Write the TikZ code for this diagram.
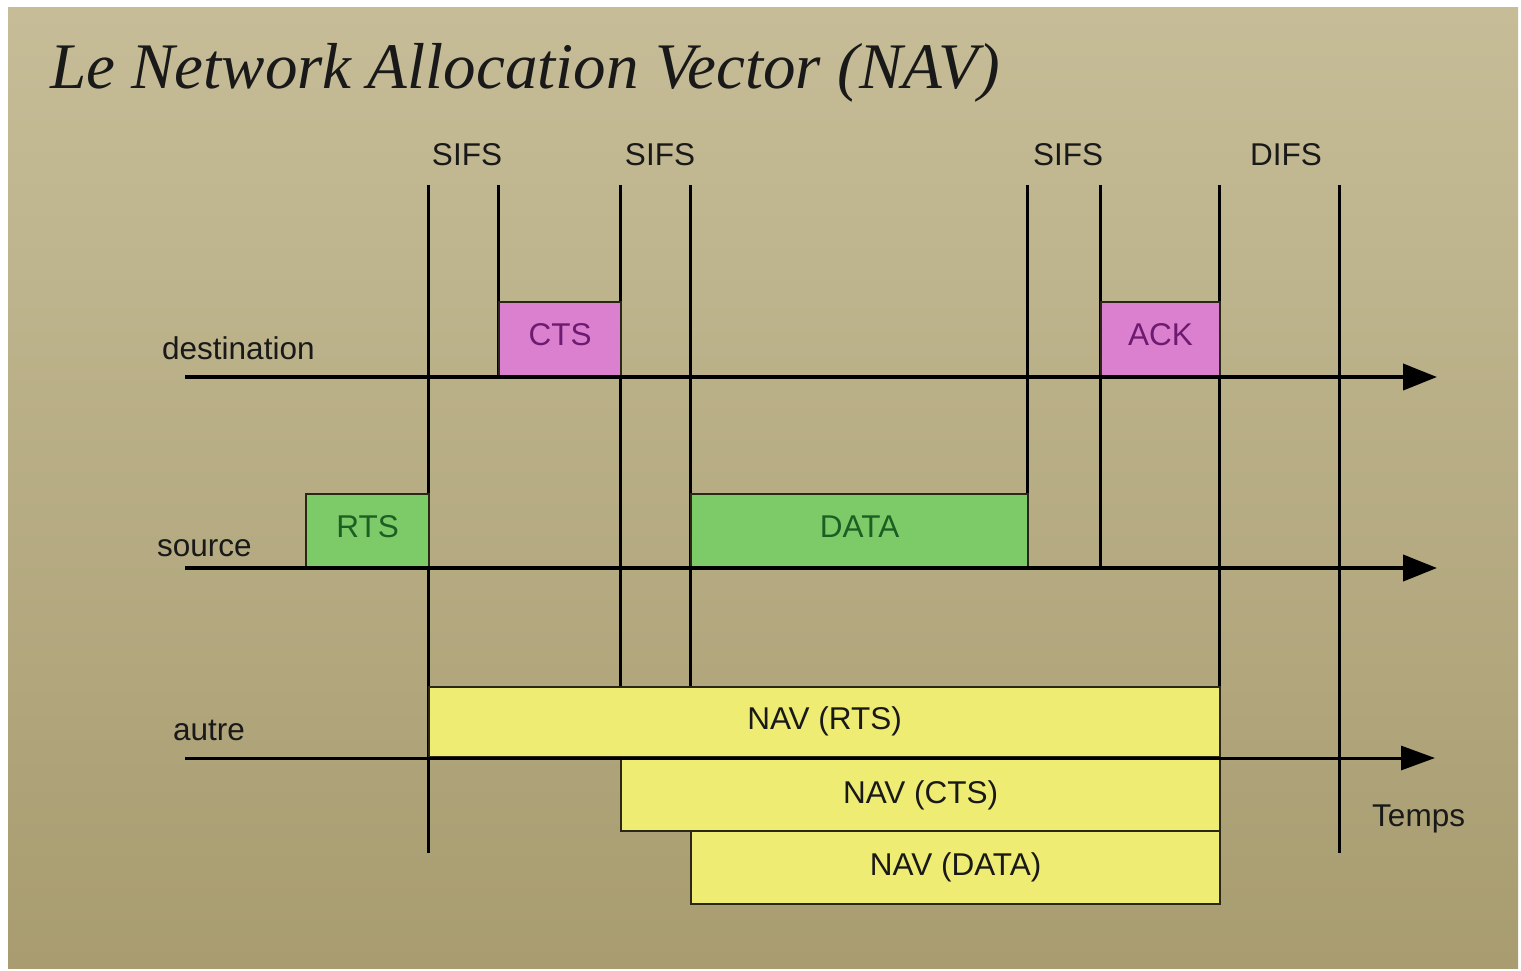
\documentclass[tikz,border=0pt]{standalone}
\usepackage{fontspec}
\setmainfont{Liberation Sans}
\newfontfamily\titlefont{Liberation Serif}
\usetikzlibrary{arrows.meta}
\definecolor{bgtop}{HTML}{C6BD98}
\definecolor{bgbot}{HTML}{A89C70}
\definecolor{ctsfill}{HTML}{DA80CF}
\definecolor{ctstext}{HTML}{6E1A70}
\definecolor{rtsfill}{HTML}{7CCB68}
\definecolor{rtstext}{HTML}{1D5E22}
\definecolor{navfill}{HTML}{EEEC72}
\definecolor{edge}{HTML}{2A2618}
\tikzset{
  lbl/.style={font=\fontsize{31.5}{35}\selectfont, text=black!90, inner sep=0pt},
  vline/.style={draw=black, line width=3pt},
  axisline/.style={draw=black, line width=4pt, -{Triangle[length=34pt,width=26pt]}},
  axisthin/.style={draw=black, line width=3pt, -{Triangle[length=34pt,width=24pt]}},
  box/.style={draw=edge, line width=2.2pt, inner sep=0pt, font=\fontsize{31.5}{35}\selectfont},
  ctsbox/.style={box, fill=ctsfill, text=ctstext},
  rtsbox/.style={box, fill=rtsfill, text=rtstext},
  navbox/.style={box, fill=navfill, text=black!90},
}
\begin{document}
\begin{tikzpicture}[x=1pt,y=-1pt]
\useasboundingbox (0,0) rectangle (1521,970);
\fill[white] (0,0) rectangle (1521,970);
\shade[top color=bgtop, bottom color=bgbot] (8,7) rectangle (1518,968);

% title
\node[anchor=base west, inner sep=0pt, font=\titlefont\itshape\fontsize{65}{70}\selectfont, text=black!90] (title) at (50,88) {Le Network Allocation Vector (NAV)};

% vertical time marks
\coordinate (v1t) at (428,185); \coordinate (v1b) at (428,853);
\coordinate (v2t) at (498,185); \coordinate (v2b) at (498,377);
\coordinate (v3t) at (620,185); \coordinate (v3b) at (620,688);
\coordinate (v4t) at (690,185); \coordinate (v4b) at (690,688);
\coordinate (v5t) at (1027,185); \coordinate (v5b) at (1027,568);
\coordinate (v6t) at (1100,185); \coordinate (v6b) at (1100,568);
\coordinate (v7t) at (1219,185); \coordinate (v7b) at (1219,903);
\coordinate (v8t) at (1339,185); \coordinate (v8b) at (1339,853);
\foreach \i in {1,...,8} {\draw[vline] (v\i t) -- (v\i b);}

% interval labels
\node[lbl] (sifs1) at (467,155) {SIFS};
\node[lbl] (sifs2) at (660,155) {SIFS};
\node[lbl] (sifs3) at (1068,155) {SIFS};
\node[lbl] (difs) at (1286,155) {DIFS};

% frames
\node[ctsbox, minimum width=122pt, minimum height=74pt, anchor=south west] (cts) at (498,377) {\raisebox{8pt}{CTS}};
\node[ctsbox, minimum width=119pt, minimum height=74pt, anchor=south west] (ack) at (1100,377) {\raisebox{8pt}{ACK}};
\node[rtsbox, minimum width=123pt, minimum height=73pt, anchor=south west] (rts) at (305,568) {\raisebox{8pt}{RTS}};
\node[rtsbox, minimum width=337pt, minimum height=73pt, anchor=south west] (data) at (690,568) {\raisebox{8pt}{DATA}};
\node[navbox, minimum width=791pt, minimum height=70pt, anchor=south west] (navrts) at (428,758) {\raisebox{7pt}{NAV (RTS)}};
\node[navbox, minimum width=599pt, minimum height=72pt, anchor=north west] (navcts) at (620,758) {\raisebox{7pt}{NAV (CTS)}};
\node[navbox, minimum width=529pt, minimum height=73pt, anchor=north west] (navdata) at (690,830) {\raisebox{7pt}{NAV (DATA)}};

% axes
\coordinate (d0) at (185,377); \coordinate (d1) at (1437,377);
\coordinate (s0) at (185,568); \coordinate (s1) at (1437,568);
\coordinate (a0) at (185,758); \coordinate (a1) at (1435,758);
\draw[axisline] (d0) -- (d1);
\draw[axisline] (s0) -- (s1);
\draw[axisthin] (a0) -- (a1);

% row labels
\node[lbl, anchor=base west] (ldest) at (162,359) {destination};
\node[lbl, anchor=base west] (lsrc) at (157,556) {source};
\node[lbl, anchor=base west] (laut) at (173,740) {autre};
\node[lbl, anchor=base west] (ltemps) at (1372,826) {Temps};
\end{tikzpicture}
\end{document}
